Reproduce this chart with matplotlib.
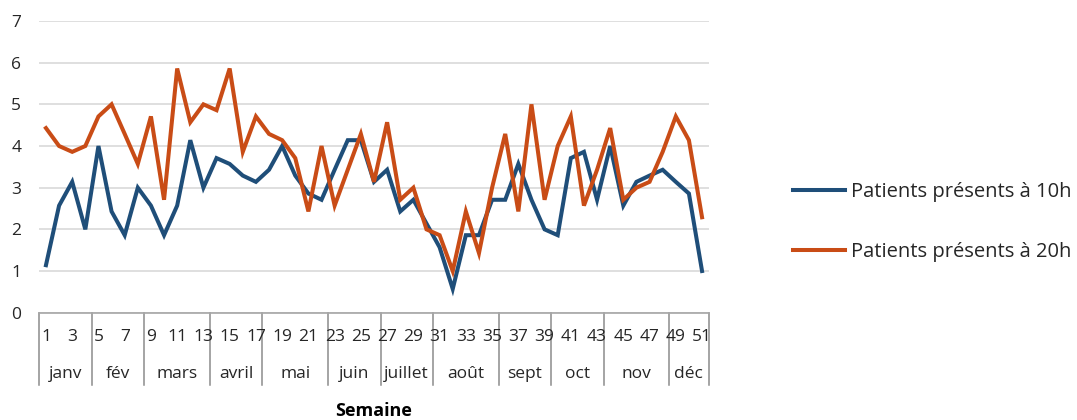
import numpy as np
import matplotlib
matplotlib.use("Agg")
import matplotlib.pyplot as plt
import matplotlib.transforms as mtransforms
from matplotlib.lines import Line2D

plt.rcParams['font.family'] = ['Open Sans', 'DejaVu Sans']

# Weekly averages
weeks = list(range(1, 52))
present_10h = [1.14, 2.57, 3.14, 2.00, 4.00, 2.43, 1.86, 3.00, 2.57, 1.86,
               2.57, 4.14, 3.00, 3.71, 3.57, 3.29, 3.14, 3.43, 4.00, 3.29,
               2.86, 2.71, 3.43, 4.14, 4.14, 3.14, 3.43, 2.43, 2.71, 2.14,
               1.57, 0.57, 1.86, 1.86, 2.71, 2.71, 3.57, 2.71, 2.00, 1.86,
               3.71, 3.86, 2.71, 4.00, 2.57, 3.14, 3.29, 3.43, 3.14, 2.86,
               1.00]
present_20h = [4.43, 4.00, 3.86, 4.00, 4.71, 5.00, 4.29, 3.57, 4.71, 2.71,
               5.86, 4.57, 5.00, 4.86, 5.86, 3.86, 4.71, 4.29, 4.14, 3.71,
               2.43, 4.00, 2.57, 3.43, 4.29, 3.14, 4.57, 2.71, 3.00, 2.00,
               1.86, 1.00, 2.43, 1.43, 3.00, 4.29, 2.43, 5.00, 2.71, 4.00,
               4.71, 2.57, 3.43, 4.43, 2.71, 3.00, 3.14, 3.86, 4.71, 4.14,
               2.29]
months = ['janv', 'fév', 'mars', 'avril', 'mai', 'juin', 'juillet',
          'août', 'sept', 'oct', 'nov', 'déc']
month_last_week = [4, 8, 13, 17, 22, 26, 30, 35, 39, 43, 48, 51]
series_labels = ['Patients présents à 10h', 'Patients présents à 20h']

BLUE = '#1F4E79'
ORANGE = '#C94C16'
TXT = '#262626'
FS = 12.5

fig = plt.figure(figsize=(10.77, 4.20), dpi=100)
ax = fig.add_axes([39.4 / 1077, 1 - 312.7 / 420, (708.6 - 39.4) / 1077, (312.7 - 21) / 420])

ax.plot(weeks, present_10h, color=BLUE, lw=2.9, solid_joinstyle='miter')
ax.plot(weeks, present_20h, color=ORANGE, lw=2.9, solid_joinstyle='miter')

ax.set_xlim(0.5, 51.5)
ax.set_ylim(0, 7)
ax.set_yticks(range(0, 8))
ax.yaxis.grid(True, color='#d9d9d9', lw=1.2)
ax.set_axisbelow(True)
for s in ['top', 'right', 'left']:
    ax.spines[s].set_visible(False)
ax.spines['bottom'].set_color('#a6a6a6')
ax.spines['bottom'].set_linewidth(1.2)
ax.tick_params(axis='y', length=0, pad=13, labelsize=FS, labelcolor=TXT)
ax.set_xticks([])

# two-level category axis: week numbers, then months
trans = mtransforms.blended_transform_factory(ax.transData, ax.transAxes)
for w in weeks[::2]:
    ax.text(w, -0.083, str(w), transform=trans, ha='center', va='center',
            fontsize=FS, color=TXT, clip_on=False)

bounds = [0.5] + [m + 0.5 for m in month_last_week]
for b in bounds:
    ax.add_line(Line2D([b, b], [0, -0.248], transform=trans, color='#8c8c8c',
                       lw=1.1, clip_on=False))
for i, name in enumerate(months):
    ax.text((bounds[i] + bounds[i + 1]) / 2, -0.21, name, transform=trans,
            ha='center', va='center', fontsize=FS, color=TXT, clip_on=False)

ax.text(0.5, -0.337, 'Semaine', transform=ax.transAxes, ha='center', va='center',
        fontsize=13, fontweight='bold', color='black')

handles = [Line2D([], [], color=BLUE, lw=2.9), Line2D([], [], color=ORANGE, lw=2.9)]
fig.legend(handles, series_labels, loc='center left',
           bbox_to_anchor=(793 / 1077, 1 - 222 / 420), frameon=False,
           fontsize=14.5, handlelength=2.6, handletextpad=0.3,
           labelspacing=1.95, borderpad=0, borderaxespad=0, labelcolor=TXT)

fig.savefig('out.png', dpi=100)
